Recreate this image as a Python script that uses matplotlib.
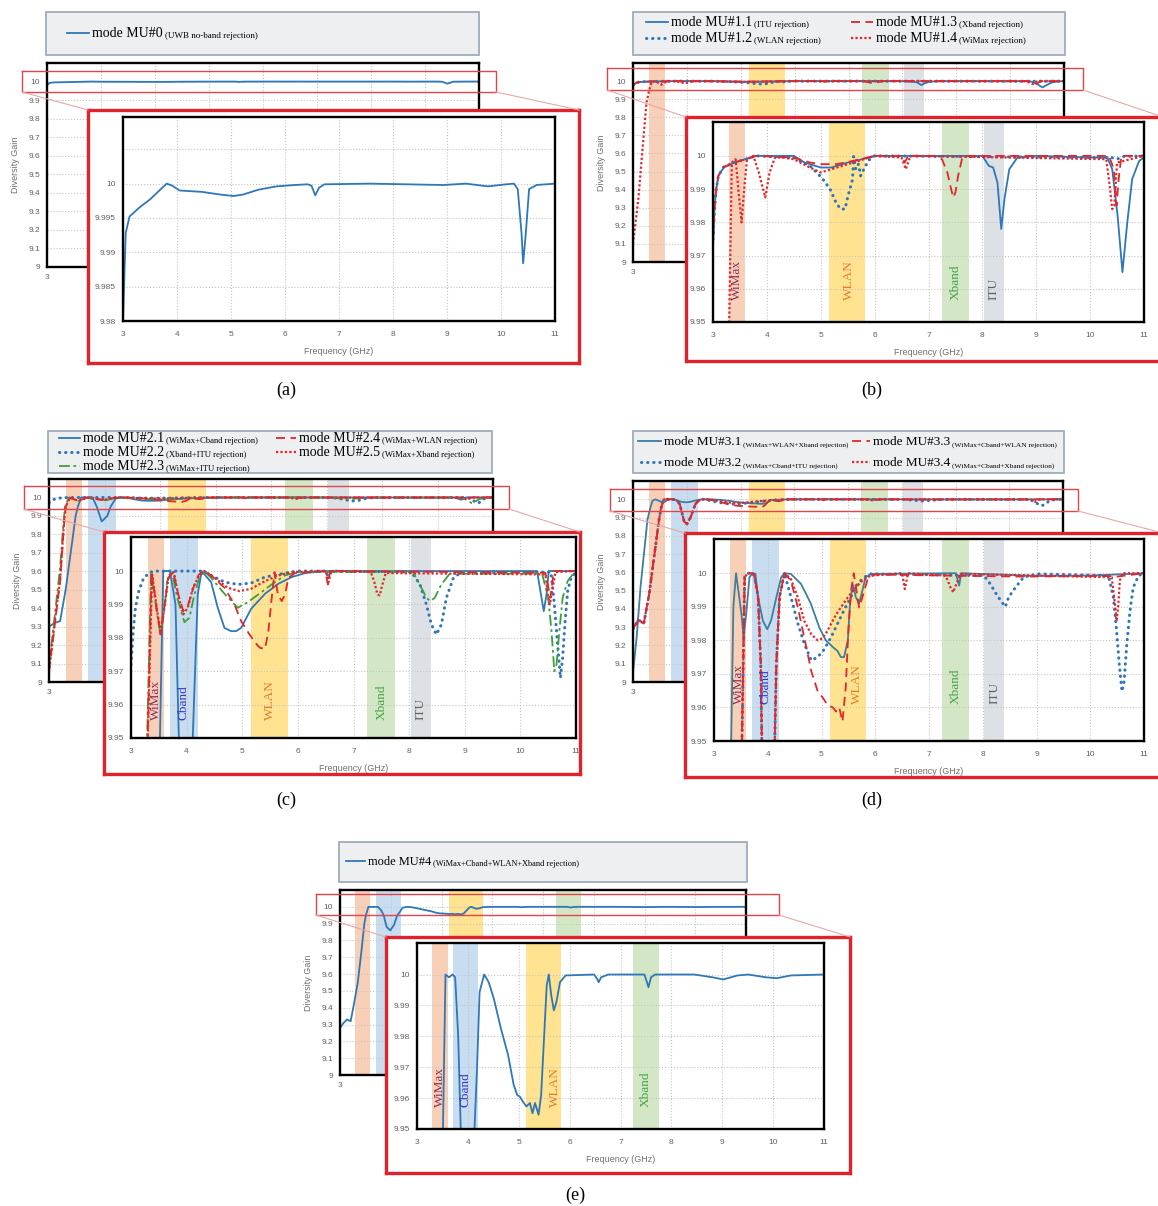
import numpy as np
import matplotlib.pyplot as plt

# ---------------- data: frequency (GHz) / diversity gain ----------------
# (a) MU#0
mu0_f = [3.0, 3.05, 3.12, 3.3, 3.5, 3.7, 3.81, 3.91, 4.05, 4.46, 4.81, 5.05, 5.22, 5.5, 5.84, 6.18,
         6.42, 6.49, 6.56, 6.63, 6.73, 7.56, 8.94, 9.35, 9.76, 10.1, 10.24, 10.31, 10.38, 10.41,
         10.46, 10.52, 10.66, 11.0]
mu0_g = [9.98, 9.9928, 9.9952, 9.9965, 9.9977, 9.9992, 10.0, 9.9997, 9.999, 9.9988, 9.9984, 9.9982,
         9.9984, 9.9991, 9.9996, 9.9998, 9.9999, 9.9997, 9.9983, 9.9994, 9.9999, 10.0, 9.9998, 10.0,
         9.9996, 9.9999, 10.0, 9.9992, 9.9928, 9.9884, 9.9928, 9.9992, 9.9998, 10.0]

# (b) MU#1.x
mu11_f = [3.0, 3.03, 3.06, 3.1, 3.2, 3.4, 3.6, 3.8, 4.5, 4.7, 5.0, 5.2, 5.5, 5.9, 6.0, 8.0, 8.12,
          8.2, 8.28, 8.35, 8.41, 8.5, 8.65, 9.0, 10.0, 10.32, 10.41, 10.51, 10.6, 10.69, 10.78,
          10.91, 11.0]
mu11_g = [9.972, 9.985, 9.99, 9.994, 9.9965, 9.998, 9.999, 10.0, 10.0, 9.998, 9.9965, 9.9965,
          9.998, 9.9995, 10.0, 10.0, 9.997, 9.9965, 9.992, 9.978, 9.987, 9.996, 9.9995, 10.0,
          9.9995, 9.9995, 9.996, 9.982, 9.965, 9.98, 9.993, 9.9985, 9.9995]
mu12_f = [3.0, 3.03, 3.06, 3.1, 3.2, 3.4, 3.6, 3.8, 4.5, 4.8, 5.02, 5.17, 5.29, 5.37, 5.45, 5.51,
          5.59, 5.61, 5.65, 5.7, 5.74, 5.83, 5.93, 6.0, 10.4, 10.5, 10.6, 11.0]
mu12_g = [9.975, 9.984, 9.99, 9.994, 9.9967, 9.998, 9.999, 10.0, 9.9995, 9.997, 9.9934, 9.9901,
          9.9857, 9.984, 9.984, 9.9882, 9.9929, 9.9998, 9.996, 9.9975, 9.994, 9.997, 9.9995, 10.0,
          9.9995, 9.999, 9.9998, 10.0]
mu13_f = [3.0, 3.03, 3.06, 3.1, 3.2, 3.4, 3.6, 3.8, 4.5, 4.8, 5.0, 5.3, 5.6, 6.0, 6.5, 6.56, 6.62,
          7.1, 7.25, 7.35, 7.42, 7.46, 7.5, 7.55, 7.62, 7.7, 10.35, 10.44, 10.49, 10.53, 10.58, 11.0]
mu13_g = [9.975, 9.985, 9.99, 9.994, 9.9967, 9.998, 9.999, 10.0, 9.9995, 9.998, 9.9975, 9.9975,
          9.9985, 10.0, 10.0, 9.998, 10.0, 10.0, 9.999, 9.995, 9.99, 9.9875, 9.989, 9.994, 9.999,
          10.0, 10.0, 9.996, 9.985, 9.993, 10.0, 10.0]
mu14_f = [3.0, 3.1, 3.17, 3.25, 3.3, 3.35, 3.42, 3.47, 3.53, 3.58, 3.63, 3.75, 3.85, 3.97, 4.05,
          4.15, 4.3, 4.5, 4.8, 5.0, 5.3, 5.6, 6.0, 6.5, 6.58, 6.64, 6.7, 10.3, 10.37, 10.41, 10.45,
          10.5, 11.0]
mu14_g = [9.1, 9.35, 9.6, 9.88, 9.95, 9.998, 9.999, 9.99, 9.98, 9.99, 9.999, 10.0, 9.995, 9.9875,
          9.995, 9.9995, 9.9995, 9.999, 9.9965, 9.995, 9.9965, 9.998, 10.0, 9.9995, 9.996, 9.999,
          10.0, 9.999, 9.99, 9.984, 9.985, 9.998, 10.0]

# (c) MU#2.x
mu21_f = [3.0, 3.1, 3.2, 3.3, 3.4, 3.48, 3.52, 3.58, 3.7, 3.8, 3.86, 3.95, 4.05, 4.11, 4.2, 4.27,
          4.44, 4.56, 4.68, 4.8, 4.89, 4.98, 5.16, 5.41, 5.65, 5.89, 6.13, 6.5, 10.3, 10.36, 10.42,
          10.47, 10.51, 11.0]
mu21_g = [9.3, 9.32, 9.33, 9.5, 9.72, 9.9, 9.95, 10.0, 10.0, 9.99, 9.95, 9.87, 9.9, 9.95, 9.993,
          10.0, 9.9967, 9.989, 9.983, 9.982, 9.982, 9.983, 9.9887, 9.9932, 9.9962, 9.9982, 9.9994,
          10.0, 10.0, 9.994, 9.988, 9.993, 10.0, 10.0]
mu22_f = [3.0, 3.04, 3.08, 3.14, 3.23, 3.35, 3.47, 4.3, 4.44, 4.68, 4.92, 5.16, 5.41, 5.77, 6.0,
          6.5, 6.54, 6.6, 8.04, 8.19, 8.31, 8.4, 8.49, 8.58, 8.67, 8.79, 8.91, 10.55, 10.6, 10.65,
          10.7, 10.72, 10.76, 10.8, 10.85, 10.91, 11.0]
mu22_g = [9.972, 9.982, 9.989, 9.994, 9.998, 9.9997, 10.0, 10.0, 9.9987, 9.9967, 9.996, 9.9964,
          9.9982, 9.9994, 10.0, 10.0, 9.9985, 10.0, 9.9997, 9.9962, 9.99, 9.984, 9.981, 9.984,
          9.992, 9.9977, 9.9994, 9.9997, 9.992, 9.982, 9.972, 9.968, 9.974, 9.984, 9.994, 9.998,
          9.9997]
mu23_f = [3.0, 3.1, 3.2, 3.26, 3.29, 3.36, 3.47, 3.53, 3.59, 3.65, 3.74, 3.83, 3.96, 4.05, 4.14,
          4.23, 4.32, 4.44, 4.68, 4.92, 5.1, 5.29, 5.53, 5.77, 6.0, 8.07, 8.22, 8.31, 8.38, 8.46,
          8.58, 8.73, 10.39, 10.5, 10.56, 10.61, 10.65, 10.7, 10.76, 10.85, 10.97, 11.0]
mu23_g = [9.08, 9.35, 9.62, 9.86, 9.95, 9.9997, 9.987, 9.981, 9.987, 9.997, 9.9997, 9.992, 9.9847,
          9.986, 9.993, 9.998, 10.0, 9.998, 9.9932, 9.989, 9.9907, 9.993, 9.996, 9.9987, 9.9997,
          9.9997, 9.995, 9.992, 9.991, 9.992, 9.996, 9.9992, 9.9992, 9.992, 9.982, 9.970, 9.972,
          9.982, 9.992, 9.997, 9.9997, 10.0]
mu24_f = [3.0, 3.1, 3.2, 3.27, 3.3, 3.37, 3.47, 3.53, 3.59, 3.67, 3.76, 3.85, 3.94, 4.03, 4.12,
          4.22, 4.32, 4.44, 4.68, 4.86, 4.98, 5.13, 5.26, 5.32, 5.41, 5.47, 5.53, 5.58, 5.64, 5.71,
          5.77, 5.83, 5.95, 6.49, 6.54, 6.58, 10.45, 10.54, 10.6, 11.0]
mu24_g = [9.06, 9.3, 9.55, 9.85, 9.95, 9.9995, 9.988, 9.981, 9.988, 9.998, 9.9997, 9.993, 9.988,
          9.99, 9.995, 9.999, 10.0, 9.9987, 9.995, 9.99, 9.985, 9.981, 9.978, 9.977, 9.9767, 9.982,
          9.992, 9.9997, 9.993, 9.991, 9.993, 9.998, 9.9994, 10.0, 9.996, 10.0, 9.9995, 9.992,
          10.0, 10.0]
mu25_f = [3.0, 3.1, 3.2, 3.27, 3.3, 3.38, 3.47, 3.53, 3.59, 3.68, 3.77, 3.86, 3.94, 4.02, 4.11,
          4.23, 4.32, 4.5, 4.74, 4.95, 5.16, 5.41, 5.65, 5.89, 6.5, 6.55, 6.6, 7.31, 7.37, 7.43,
          7.47, 7.52, 7.58, 10.45, 10.5, 10.53, 10.57, 10.63, 11.0]
mu25_g = [9.05, 9.32, 9.55, 9.86, 9.95, 9.999, 9.988, 9.982, 9.988, 9.9987, 9.9997, 9.992, 9.987,
          9.989, 9.9947, 9.999, 10.0, 9.998, 9.995, 9.994, 9.9947, 9.997, 9.9987, 9.9997, 10.0,
          9.9967, 10.0, 9.9997, 9.997, 9.993, 9.9927, 9.996, 9.9994, 9.999, 9.992, 9.990, 9.994,
          9.9997, 10.0]

# (d) MU#3.x
mu31_f = [3.0, 3.07, 3.14, 3.21, 3.27, 3.32, 3.36, 3.41, 3.51, 3.55, 3.6, 3.66, 3.72, 3.77, 3.82,
          3.91, 3.99, 4.06, 4.16, 4.25, 4.31, 4.43, 4.62, 4.8, 4.96, 5.08, 5.21, 5.3, 5.36, 5.42,
          5.49, 5.53, 5.58, 5.64, 5.7, 5.76, 5.82, 5.92, 7.5, 7.56, 7.6, 8.5, 9.0, 10.0, 11.0]
mu31_g = [9.05, 9.25, 9.52, 9.72, 9.89, 9.95, 9.99, 10.0, 9.988, 9.981, 9.988, 9.9988, 10.0,
          9.9998, 9.9928, 9.9858, 9.9833, 9.9858, 9.9928, 9.9988, 10.0, 9.9998, 9.9968, 9.991,
          9.9838, 9.98, 9.978, 9.9768, 9.975, 9.975, 9.98, 9.991, 9.9968, 9.9928, 9.991, 9.9948,
          9.9988, 9.9998, 10.0, 9.9963, 10.0, 9.9995, 9.9992, 9.9993, 10.0]
rise3_f = [3.0, 3.1, 3.2, 3.3, 3.4, 3.48, 3.52, 3.57, 3.63, 3.72, 3.75, 3.82, 3.87, 3.89, 3.95,
           4.0, 4.07, 4.13, 4.16, 4.22, 4.31]
rise3_g = [9.29, 9.34, 9.32, 9.48, 9.7, 9.88, 9.95, 9.9988, 10.0, 10.0, 9.9993, 9.993, 9.973,
           9.95, 9.88, 9.863, 9.9, 9.95, 9.973, 9.993, 10.0]
mu32_f = rise3_f + [4.43, 4.56, 4.68, 4.81, 4.93, 5.05, 5.18, 5.3, 5.42, 5.55, 5.67, 5.79, 5.92,
                    8.02, 8.14, 8.27, 8.36, 8.42, 8.48, 8.61, 8.76, 9.01, 10.34, 10.43, 10.49,
                    10.54, 10.59, 10.63, 10.68, 10.74, 10.8, 10.9, 11.0]
mu32_g = rise3_g + [9.993, 9.985, 9.979, 9.974, 9.975, 9.9773, 9.981, 9.985, 9.989, 9.993,
                    9.9968, 9.9988, 9.9998, 9.9993, 9.9968, 9.9933, 9.9913, 9.990, 9.9928, 9.9958,
                    9.9988, 9.9998, 9.9993, 9.9928, 9.9828, 9.9728, 9.9648, 9.9678, 9.9788,
                    9.9888, 9.9958, 9.9993, 10.0]
mu33_f = rise3_f + [4.43, 4.56, 4.68, 4.81, 4.93, 5.02, 5.11, 5.21, 5.27, 5.33, 5.39, 5.45, 5.5,
                    5.55, 5.6, 5.66, 5.7, 5.76, 5.86, 5.98, 8.7, 10.3, 10.5, 11.0]
mu33_g = rise3_g + [9.9978, 9.9898, 9.9808, 9.9708, 9.9648, 9.963, 9.9608, 9.96, 9.9588, 9.96,
                    9.9558, 9.9658, 9.9828, 9.9948, 10.0, 9.9938, 9.9898, 9.9928, 9.9983, 9.9996,
                    9.999, 9.9992, 9.999, 10.0]
mu34_f = rise3_f + [4.43, 4.56, 4.68, 4.81, 4.93, 5.02, 5.11, 5.24, 5.36, 5.49, 5.61, 5.76, 5.92,
                    6.5, 6.55, 6.61, 7.31, 7.4, 7.45, 7.51, 7.59, 10.4, 10.46, 10.49, 10.52,
                    10.55, 10.6, 11.0]
mu34_g = rise3_g + [9.9983, 9.9928, 9.9858, 9.9818, 9.980, 9.9806, 9.9828, 9.9868, 9.9898,
                    9.9928, 9.9953, 9.9978, 9.9993, 10.0, 9.9953, 10.0, 9.9993, 9.9958, 9.9943,
                    9.9968, 9.9998, 9.9988, 9.9908, 9.9858, 9.99, 9.9978, 10.0, 10.0]

# (e) MU#4
mu4_f = [3.0, 3.07, 3.14, 3.21, 3.28, 3.35, 3.42, 3.48, 3.51, 3.56, 3.63, 3.7, 3.75, 3.81, 3.86,
         3.92, 3.99, 4.06, 4.13, 4.18, 4.23, 4.32, 4.41, 4.51, 4.65, 4.79, 4.9, 4.97, 5.02, 5.08,
         5.15, 5.22, 5.27, 5.32, 5.39, 5.44, 5.5, 5.55, 5.59, 5.64, 5.69, 5.74, 5.81, 5.92, 6.48,
         6.54, 6.57, 6.62, 6.76, 7.47, 7.52, 7.55, 7.6, 7.68, 8.45, 8.81, 9.02, 9.3, 9.51, 9.86,
         10.07, 10.35, 11.0]
mu4_g = [9.28, 9.31, 9.33, 9.32, 9.43, 9.55, 9.73, 9.9, 9.95, 10.0, 9.9991, 10.0, 9.9991, 9.98,
         9.95, 9.88, 9.86, 9.89, 9.95, 9.9696, 9.9943, 10.0, 9.9975, 9.9922, 9.9825, 9.974, 9.9643,
         9.961, 9.9605, 9.9589, 9.9573, 9.9584, 9.9551, 9.9584, 9.9546, 9.961, 9.9804, 9.9965,
         10.0, 9.9932, 9.9884, 9.9911, 9.9975, 9.9997, 10.0, 9.9986, 9.9975, 9.9991, 10.0, 10.0,
         9.9975, 9.9959, 9.9991, 10.0, 10.0, 9.9991, 9.9984, 9.9997, 10.0, 9.9991, 9.9988, 9.9997,
         10.0]

band_names = ['WiMax', 'Cband', 'WLAN', 'Xband', 'ITU']
band_lo = [3.3, 3.7, 5.15, 7.25, 8.025]
band_hi = [3.6, 4.2, 5.825, 7.75, 8.4]

# ---------------- styles ----------------
band_fill = ['#f8d0b8', '#c9ddf1', '#ffe391', '#d3e7c6', '#dde0e5']
band_txt = ['#8c2b5a', '#3535c8', '#e5782a', '#45a345', '#5f5f5f']
BLUE, RED, GREEN, TEAL = '#2e77b8', '#e2262b', '#3ba03b', '#3c7f9e'
SERIF, SANS = 'Liberation Serif', 'Liberation Sans'
GRAYTXT = '#606060'

solid = dict(color=BLUE, ls='-', lw=1.3)
bdot = dict(color=BLUE, ls=(0, (0.1, 1.9)), lw=2.2, dash_capstyle='round')
rdash = dict(color=RED, ls=(0, (5, 3)), lw=1.3)
rdot = dict(color=RED, ls=(0, (1, 1)), lw=1.6)
gdd = dict(color=GREEN, ls=(0, (6, 2, 1.5, 2)), lw=1.3)

W, H = 1158, 1206
fig = plt.figure(figsize=(W / 100, H / 100), dpi=100)
ov = fig.add_axes([0, 0, 1, 1], zorder=10)
ov.set_xlim(0, W)
ov.set_ylim(H, 0)
ov.axis('off')


def px_axes(box, z):
    x0, y0, x1, y1 = box
    return fig.add_axes([x0 / W, 1 - y1 / H, (x1 - x0) / W, (y1 - y0) / H], zorder=z)


def style_frame(ax):
    for s in ax.spines.values():
        s.set_color('black')
        s.set_linewidth(1.7)
    ax.tick_params(length=0, labelsize=6, labelcolor=GRAYTXT, pad=5)
    ax.grid(True, ls=':', color='#c4c4c4', lw=0.8)
    for lab in ax.get_xticklabels() + ax.get_yticklabels():
        lab.set_family(SANS)


def panel(bg_box, rect_box, inset_box, in_box, series, bands, lab_x, lab_y, ylo, yt, ytl):
    # background full-range chart
    bg = px_axes(bg_box, 1)
    bg.set_xlim(3, 11)
    bg.set_ylim(9, 10.1)
    bg.set_xticks(range(3, 12))
    bg.set_xticklabels(['3'] + [''] * 8)
    yb = np.round(np.arange(9, 10.01, 0.1), 1)
    bg.set_yticks(yb)
    bg.set_yticklabels(['9'] + [f'{v:.1f}' for v in yb[1:-1]] + ['10'])
    style_frame(bg)
    bg.set_ylabel('Diversity Gain', fontsize=6.5, color='#707070', family=SANS, labelpad=6)
    for b in bands:
        bg.axvspan(band_lo[b], band_hi[b], color=band_fill[b], lw=0)
    for f, g, st in series:
        bg.plot(f, g, **st)

    # white zoom box with red border
    box = px_axes(inset_box, 2)
    box.set_xticks([])
    box.set_yticks([])
    box.set_facecolor('white')
    for s in box.spines.values():
        s.set_color('#e0232b')
        s.set_linewidth(2.4)

    # zoomed chart
    ax = px_axes(in_box, 3)
    ax.set_xlim(3, 11)
    ax.set_ylim(ylo, 10.0102 if ylo < 9.97 else 10.0097)
    ax.set_xticks(range(3, 12))
    ax.set_yticks(yt)
    ax.set_yticklabels(ytl)
    style_frame(ax)
    ax.tick_params(axis='x', pad=7)
    ax.set_xlabel('Frequency (GHz)', fontsize=6.5, color='#707070', family=SANS, labelpad=7)
    for b in bands:
        ax.axvspan(band_lo[b], band_hi[b], color=band_fill[b], lw=0)
        if lab_y is not None:
            ax.text(lab_x.get(b, (band_lo[b] + band_hi[b]) / 2), lab_y, band_names[b],
                    rotation=90, ha='center', va='bottom', fontsize=9.5, family=SERIF,
                    color=band_txt[b])
    for f, g, st in series:
        ax.plot(f, g, **st)

    # small red frame round the 10 line and connectors
    x0, y0, x1, y1 = rect_box
    ov.plot([x0, x1, x1, x0, x0], [y0, y0, y1, y1, y0], color='#e0454a', lw=1.0)
    ov.plot([x0, inset_box[0]], [y1, inset_box[1]], color='#eaa6a6', lw=0.8)
    ov.plot([x1, inset_box[2]], [y1, inset_box[1]], color='#eaa6a6', lw=0.8)


def legend_box(box, entries, fs_main, fs_small):
    x0, y0, x1, y1 = box
    ov.add_patch(plt.Rectangle((x0, y0), x1 - x0, y1 - y0, facecolor='#eeeff0',
                               edgecolor='#9eadbd', lw=1.3))
    for lx0, lx1, y, st, main, small in entries:
        ov.plot([lx0, lx1], [y, y], **st)
        t = ov.text(lx1 + 3, y + 4, main, fontsize=fs_main, family=SERIF, va='baseline')
        ov.annotate(small, xy=(1, 0), xycoords=t, xytext=(1.5, 0), textcoords='offset points',
                    va='bottom', fontsize=fs_small, family=SERIF)


yt_a = [9.98, 9.985, 9.99, 9.995, 10.0, 10.005]
ytl_a = ['9.98', '9.985', '9.99', '9.995', '10', '']
yt_b = [9.95, 9.96, 9.97, 9.98, 9.99, 10.0]
ytl_b = ['9.95', '9.96', '9.97', '9.98', '9.99', '10']

# (a)
panel((47, 63, 479, 267), (22, 71, 496, 92), (88, 110, 579, 363), (123, 117, 555, 321),
      [(mu0_f, mu0_g, solid)], [], {}, None, 9.98, yt_a, ytl_a)
legend_box((46, 12, 479, 55), [(67, 89, 33, solid, 'mode MU#0', '(UWB no-band rejection)')],
           10, 6.5)

# (b)
panel((633, 63, 1064, 262), (607, 68, 1083, 90), (686, 117, 1163, 361), (713, 122, 1144, 322),
      [(mu11_f, mu11_g, solid), (mu12_f, mu12_g, bdot), (mu13_f, mu13_g, rdash),
       (mu14_f, mu14_g, rdot)],
      [0, 2, 3, 4], {2: 5.52}, 9.9565, 9.95, yt_b, ytl_b)
legend_box((633, 12, 1065, 55),
           [(646, 668, 22, solid, 'mode MU#1.1', '(ITU rejection)'),
            (646, 668, 38, bdot, 'mode MU#1.2', '(WLAN rejection)'),
            (851, 873, 22, rdash, 'mode MU#1.3', '(Xband rejection)'),
            (851, 873, 38, rdot, 'mode MU#1.4', '(WiMax rejection)')], 10, 6.5)

# (c)
panel((49, 479, 493, 682), (24, 486, 509, 509), (104, 532, 580, 774), (131, 537, 576, 738),
      [(mu21_f, mu21_g, solid), (mu22_f, mu22_g, bdot), (mu23_f, mu23_g, gdd),
       (mu24_f, mu24_g, rdash), (mu25_f, mu25_g, rdot)],
      [0, 1, 2, 3, 4], {2: 5.5}, 9.9555, 9.95, yt_b, ytl_b)
legend_box((48, 431, 492, 473),
           [(59, 80, 438, solid, 'mode MU#2.1', '(WiMax+Cband rejection)'),
            (59, 80, 452, bdot, 'mode MU#2.2', '(Xband+ITU rejection)'),
            (59, 80, 466, gdd, 'mode MU#2.3', '(WiMax+ITU rejection)'),
            (276, 296, 438, rdash, 'mode MU#2.4', '(WiMax+WLAN rejection)'),
            (276, 296, 452, rdot, 'mode MU#2.5', '(WiMax+Xband rejection)')], 10, 6.2)

# (d)
panel((633, 481, 1063, 682), (610, 489, 1078, 511), (685, 533, 1163, 777), (714, 539, 1144, 741),
      [(mu31_f, mu31_g, dict(solid, color=TEAL)), (mu32_f, mu32_g, bdot),
       (mu33_f, mu33_g, rdash), (mu34_f, mu34_g, rdot)],
      [0, 1, 2, 3, 4], {0: 3.47, 1: 3.95, 2: 5.66}, 9.961, 9.95, yt_b, ytl_b)
legend_box((633, 431, 1064, 473),
           [(638, 661, 441, dict(solid, color=TEAL), 'mode MU#3.1', '(WiMax+WLAN+Xband rejection)'),
            (641, 661, 462, bdot, 'mode MU#3.2', '(WiMax+Cband+ITU rejection)'),
            (852, 870, 441, rdash, 'mode MU#3.3', '(WiMax+Cband+WLAN rejection)'),
            (852, 870, 462, rdot, 'mode MU#3.4', '(WiMax+Cband+Xband rejection)')], 9.5, 5.3)

# (e)
panel((340, 890, 746, 1075), (316, 894, 779, 915), (386, 937, 850, 1173), (417, 943, 824, 1129),
      [(mu4_f, mu4_g, solid)], [0, 1, 2, 3], {2: 5.72}, 9.957, 9.95, yt_b, ytl_b)
legend_box((339, 842, 747, 882),
           [(346, 365, 861, solid, 'mode MU#4', '(WiMax+Cband+WLAN+Xband rejection)')], 9, 6)

for x, y, s in [(286, 390, '(a)'), (872, 390, '(b)'), (286, 800, '(c)'), (872, 800, '(d)'),
                (575, 1195, '(e)')]:
    ov.text(x, y, s, ha='center', va='center', fontsize=13, family=SERIF)

fig.savefig('out.png', dpi=100)
